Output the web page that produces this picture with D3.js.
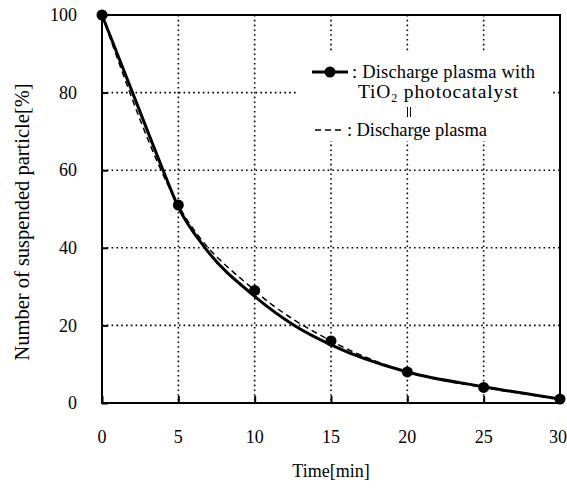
<!DOCTYPE html>
<html><head><meta charset="utf-8">
<script src="https://cdn.jsdelivr.net/npm/d3@7"></script>
<style>body{margin:0;background:#fff}svg{display:block}svg text{font-family:"Liberation Serif","Times New Roman",Times,"DejaVu Serif",serif !important;fill:#000}</style>
</head><body><svg id="c" width="567" height="493"></svg>
<script>
// data
const times = [0, 5, 10, 15, 20, 25, 30];
const tio2Values = [100, 51, 29, 16, 8, 4, 1];          // markers: discharge plasma with TiO2
const plasmaValues = [100, 51, 29, 16, 8, 4, 1];         // dashed: discharge plasma
const fitTimes = [0, 2, 4, 5, 6.75, 10, 12.6, 15, 20, 25, 30];
const fitValues = [100, 80, 60, 50.5, 40, 27.5, 20, 15, 8, 4.2, 1]; // solid curve
const xTicks = [0, 5, 10, 15, 20, 25, 30];
const yTicks = [0, 20, 40, 60, 80, 100];

const svg = d3.select("#c");
const L = 102, R = 560, T = 15, B = 403;
const x = d3.scaleLinear().domain([0, 30]).range([L, R]);
const y = d3.scaleLinear().domain([0, 100]).range([B, T]);

// grid
const grid = svg.append("g").attr("stroke", "#000").attr("stroke-width", 1.6).attr("stroke-dasharray", "1.6,3.2");
grid.selectAll(".gx").data(xTicks.filter(d => d > 0 && d < 30)).join("line")
  .attr("x1", d => x(d)).attr("x2", d => x(d)).attr("y1", T).attr("y2", B);
grid.selectAll(".gy").data(yTicks.filter(d => d > 0 && d < 100)).join("line")
  .attr("y1", d => y(d)).attr("y2", d => y(d)).attr("x1", L).attr("x2", R);

// axes (ticks from d3 axis; labels drawn explicitly)
const xAxis = d3.axisBottom(x).tickValues(xTicks).tickSize(-7).tickFormat("");
const yAxis = d3.axisLeft(y).tickValues(yTicks).tickSize(-6).tickFormat("");
const gx = svg.append("g").attr("transform", `translate(0,${B})`).call(xAxis);
const gy = svg.append("g").attr("transform", `translate(${L},0)`).call(yAxis);
[gx, gy].forEach(g => {
  g.select(".domain").remove();
  g.selectAll(".tick line").attr("stroke", "#000").attr("stroke-width", 2);
  g.selectAll(".tick text").remove();
});
svg.append("g").selectAll("text").data(yTicks).join("text")
  .attr("x", L - 25).attr("y", d => y(d)).attr("dy", "0.34em")
  .attr("text-anchor", "end").attr("font-size", 18).text(d => d);
svg.append("g").selectAll("text").data(xTicks).join("text")
  .attr("x", d => x(d) - (d === 30 ? 2 : 0)).attr("y", B + 40)
  .attr("text-anchor", "middle").attr("font-size", 18).text(d => d);

// frame
svg.append("rect").attr("x", L).attr("y", T).attr("width", R - L).attr("height", B - T)
  .attr("fill", "none").attr("stroke", "#000").attr("stroke-width", 2);

// legend background
svg.append("rect").attr("x", 298).attr("y", 53).attr("width", 252).attr("height", 88).attr("fill", "#fff");

// dashed line
svg.append("path").datum(times.map((t, i) => [t, plasmaValues[i]]))
  .attr("d", d3.line().x(d => x(d[0])).y(d => y(d[1])).curve(d3.curveMonotoneX))
  .attr("fill", "none").attr("stroke", "#000").attr("stroke-width", 1.5).attr("stroke-dasharray", "6,4");

// solid fitted curve
svg.append("path").datum(fitTimes.map((t, i) => [t, fitValues[i]]))
  .attr("d", d3.line().x(d => x(d[0])).y(d => y(d[1])).curve(d3.curveMonotoneX))
  .attr("fill", "none").attr("stroke", "#000").attr("stroke-width", 3);

// markers
svg.selectAll(".m").data(times.map((t, i) => [t, tio2Values[i]])).join("circle")
  .attr("cx", d => x(d[0])).attr("cy", d => y(d[1])).attr("r", 5.5).attr("fill", "#000");

// legend
const lg = svg.append("g");
lg.append("line").attr("x1", 312).attr("x2", 348).attr("y1", 72).attr("y2", 72).attr("stroke", "#000").attr("stroke-width", 3);
lg.append("circle").attr("cx", 330).attr("cy", 72).attr("r", 5.5).attr("fill", "#000");
lg.append("text").attr("x", 352).attr("y", 78).attr("font-size", 18.5)
  .attr("textLength", 183).attr("lengthAdjust", "spacing").text(": Discharge plasma with");
const t2 = lg.append("text").attr("x", 358).attr("y", 98).attr("font-size", 19.5)
  .attr("textLength", 160).attr("lengthAdjust", "spacing");
t2.append("tspan").text("TiO");
t2.append("tspan").attr("font-size", 12).attr("dy", 4).text("2");
t2.append("tspan").attr("dy", -4).text(" photocatalyst");
lg.append("line").attr("x1", 407.5).attr("x2", 407.5).attr("y1", 107).attr("y2", 117).attr("stroke", "#000").attr("stroke-width", 1);
lg.append("line").attr("x1", 410.5).attr("x2", 410.5).attr("y1", 107).attr("y2", 117).attr("stroke", "#000").attr("stroke-width", 1);
lg.append("line").attr("x1", 315).attr("x2", 345).attr("y1", 130).attr("y2", 130).attr("stroke", "#000").attr("stroke-width", 1.5).attr("stroke-dasharray", "6,4");
lg.append("text").attr("x", 347).attr("y", 136).attr("font-size", 18.5)
  .attr("textLength", 140).attr("lengthAdjust", "spacing").text(": Discharge plasma");

// axis titles
svg.append("text").attr("x", 331).attr("y", 477).attr("text-anchor", "middle").attr("font-size", 18).text("Time[min]");
svg.append("text").attr("transform", "translate(29,222) rotate(-90)").attr("text-anchor", "middle").attr("font-size", 20.5).text("Number of suspended particle[%]");
</script></body></html>
